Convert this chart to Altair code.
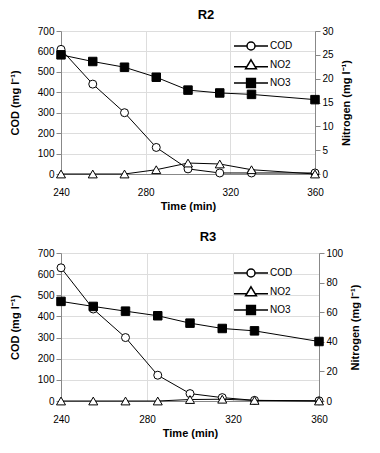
import altair as alt
import pandas as pd

FONT = "Liberation Sans"

time = [240, 255, 270, 285, 300, 315, 330, 360]

r2_cod = [610, 440, 300, 130, 25, 5, 5, 5]
r2_no2 = [0, 0, 0, 0.9, 2.3, 2.1, 0.9, 0]
r2_no3 = [25.0, 23.6, 22.4, 20.3, 17.6, 17.0, 16.7, 15.6]

r3_cod = [630, 435, 300, 122, 35, 16, 3, 1]
r3_no2 = [0, 0, 0, 0, 1.0, 1.2, 0.4, 0]
r3_no3 = [67.3, 63.9, 60.7, 57.6, 52.6, 49.0, 47.4, 40.2]

series_names = ["COD", "NO2", "NO3"]
legend_paths = [
    "M-3.4,0H-0.8 M0.8,0H3.4 M-0.8,0A0.8,0.8 0 1,0 0.8,0A0.8,0.8 0 1,0 -0.8,0Z",
    "M-3.4,0.36H-0.88 M0.88,0.36H3.4 M0,-1.04L1.08,0.76L-1.08,0.76Z",
    "M-3.4,0H3.4 M-0.88,-0.88H0.88V0.88H-0.88Z",
]
legend_fills = ["white", "white", "black"]


def panel(title, cod, no2, no3, n_max, n_step, w, h, leg_x, leg_y):
    df = pd.DataFrame({
        "time": time * 3,
        "value": cod + no2 + no3,
        "series": ["COD"] * 8 + ["NO2"] * 8 + ["NO3"] * 8,
    })
    base = alt.Chart(df)
    x = alt.X("time:Q", scale=alt.Scale(domain=[240, 360], nice=False),
              axis=alt.Axis(values=[240, 280, 320, 360], title="Time (min)",
                            ticks=False, labelPadding=13, titlePadding=3,
                            labelFlush=False))
    yl = alt.Y("value:Q", scale=alt.Scale(domain=[0, 700], nice=False),
               axis=alt.Axis(values=list(range(0, 701, 100)), title="COD (mg l⁻¹)",
                             orient="left", titlePadding=17, labelFlush=False))
    yr = alt.Y("value:Q", scale=alt.Scale(domain=[0, n_max], nice=False),
               axis=alt.Axis(values=list(range(0, n_max + 1, n_step)),
                             title="Nitrogen (mg l⁻¹)", orient="right",
                             titleAngle=270, titlePadding=18, labelFlush=False))

    cod_f = base.transform_filter(alt.datum.series == "COD")
    no2_f = base.transform_filter(alt.datum.series == "NO2")
    no3_f = base.transform_filter(alt.datum.series == "NO3")

    leg = alt.Legend(title=None, orient="none", legendX=leg_x, legendY=leg_y,
                     labelOffset=13, rowPadding=3)

    line_kw = dict(color="black", strokeWidth=1)
    cod_line = cod_f.mark_line(**line_kw).encode(x=x, y=yl)
    cod_pts = cod_f.mark_point(shape="circle", filled=True, fill="white", stroke="black",
                               strokeWidth=1, size=64, opacity=1).encode(x=x, y=yl)
    legend_layer = base.transform_filter("false").mark_point(
        filled=True, stroke="black", strokeWidth=1, size=64, opacity=1
    ).encode(
        x=x, y=yl,
        shape=alt.Shape("series:N", scale=alt.Scale(domain=series_names, range=legend_paths),
                        legend=leg),
        fill=alt.Fill("series:N", scale=alt.Scale(domain=series_names, range=legend_fills),
                      legend=leg),
    )
    left = alt.layer(cod_line, cod_pts, legend_layer)

    no2_line = no2_f.mark_line(**line_kw).encode(x=x, y=yr)
    no2_pts = no2_f.mark_point(shape="triangle-up", filled=True, fill="white", stroke="black",
                               strokeWidth=1, size=81, opacity=1).encode(x=x, y=yr)
    no3_line = no3_f.mark_line(**line_kw).encode(x=x, y=yr)
    no3_pts = no3_f.mark_point(shape="square", filled=True, fill="black", stroke="black",
                               strokeWidth=1, size=72, opacity=1).encode(x=x, y=yr)
    right = alt.layer(no2_line, no3_line, no2_pts, no3_pts)

    return alt.layer(left, right).resolve_scale(y="independent").properties(
        width=w, height=h,
        title=alt.Title(title, fontSize=13, fontWeight="bold", font=FONT, dx=18, offset=4),
    )


top = panel("R2", r2_cod, r2_no2, r2_no3, 30, 5, 254, 143, 184, 9)
bottom = panel("R3", r3_cod, r3_no2, r3_no3, 100, 20, 258, 148, 184, 14)

chart = alt.vconcat(top, bottom, spacing=18).resolve_scale(
    shape="independent", fill="independent"
).resolve_legend(shape="independent", fill="independent").configure_view(
    stroke="black", strokeWidth=1
).configure_axis(
    labelFont=FONT, labelFontSize=11.5, labelColor="black",
    labelPadding=4,
    titleFont=FONT, titleFontSize=11.5, titleFontWeight="bold", titleColor="black",
    domainColor="black", tickColor="black", tickSize=4, grid=False,
).configure_legend(
    labelFont=FONT, labelFontSize=11.5, labelColor="black",
).configure(background="white").properties(
    padding={"left": 0, "top": 0, "right": 5, "bottom": 5}
)

chart.save("out.html", embed_options={"renderer": "svg", "actions": False})
